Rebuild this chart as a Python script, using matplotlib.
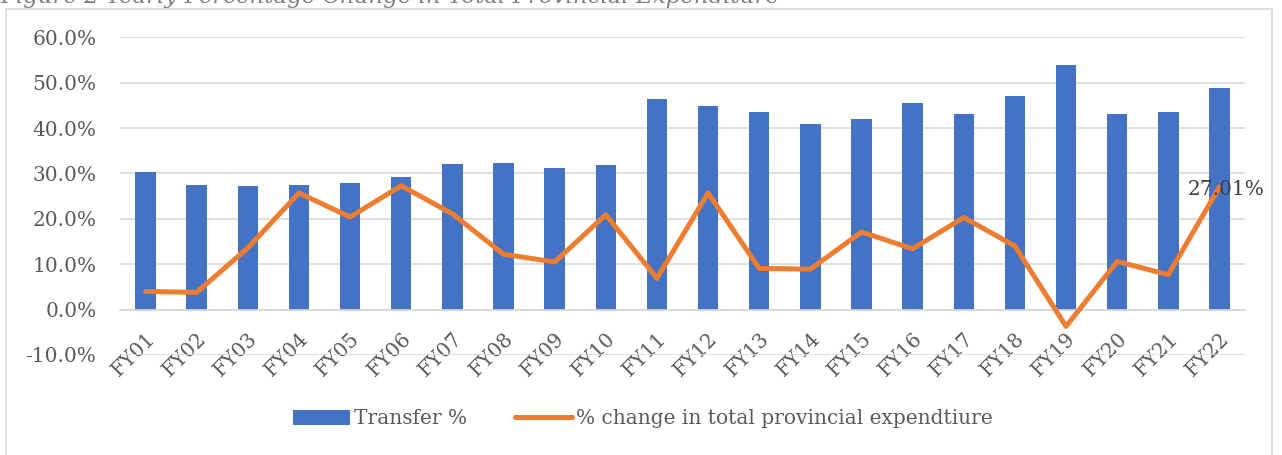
import numpy as np
import matplotlib
matplotlib.use('Agg')
import matplotlib.pyplot as plt
from matplotlib.patches import Rectangle

years = ['FY01', 'FY02', 'FY03', 'FY04', 'FY05', 'FY06', 'FY07', 'FY08', 'FY09', 'FY10', 'FY11',
         'FY12', 'FY13', 'FY14', 'FY15', 'FY16', 'FY17', 'FY18', 'FY19', 'FY20', 'FY21', 'FY22']
transfer = [30.4, 27.5, 27.3, 27.5, 27.8, 29.3, 32.1, 32.4, 31.2, 31.8, 46.4,
            44.9, 43.6, 41.0, 41.9, 45.5, 43.0, 47.1, 53.9, 43.2, 43.6, 48.9]
exp_change = [4.0, 3.8, 13.6, 25.7, 20.4, 27.3, 21.1, 12.2, 10.5, 20.9, 6.9,
              25.7, 9.1, 8.9, 17.1, 13.4, 20.3, 14.0, -3.7, 10.6, 7.7, 27.01]
yticks = [-10, 0, 10, 20, 30, 40, 50, 60]

txt = '#595959'
plt.rcParams['font.family'] = 'DejaVu Serif'

fig = plt.figure(figsize=(12.82, 4.55), dpi=100)
ax = fig.add_axes([120/1282, 1-355/455, 1125/1282, (355-37.3)/455])

# chart frame
fig.patches.append(Rectangle((6/1282, -0.1), 1266/1282, 1.1 - 9.5/455, transform=fig.transFigure,
                             fill=False, edgecolor='#D9D9D9', linewidth=1.2))
fig.text(0.0, 1-3/455, 'Figure 2 Yearly Percentage Change in Total Provincial Expenditure',
         fontsize=16.5, style='italic', color='#7F7F7F', va='baseline')

x = np.arange(len(years))
bars = ax.bar(x, transfer, 0.4, color='#4472C4', label='Transfer %', zorder=2)
line, = ax.plot(x, exp_change, color='#ED7D31', lw=3.6, solid_capstyle='round', solid_joinstyle='round',
                label='% change in total provincial expendtiure', zorder=3)
ax.annotate('{:.2f}%'.format(exp_change[-1]), (x[-1], exp_change[-1]), xytext=(5, -2),
            textcoords='offset points', ha='center', va='center', fontsize=14.5, color='#404040', zorder=4)

ax.set_xlim(-0.5, len(years) - 0.5)
ax.set_ylim(-10, 60)
ax.set_yticks(yticks)
ax.set_yticklabels(['{:.1f}%'.format(v) for v in yticks], fontsize=14.5, color=txt)
ax.grid(axis='y', color='#D9D9D9', lw=1.2, zorder=0)
ax.set_axisbelow(True)

for s in ['top', 'right', 'left']:
    ax.spines[s].set_visible(False)
ax.spines['bottom'].set_position(('data', 0))
ax.spines['bottom'].set_color('#D9D9D9')
ax.spines['bottom'].set_linewidth(1.2)

ax.set_xticks(x)
ax.set_xticklabels(years, rotation=45, ha='right', va='top', rotation_mode='anchor',
                   fontsize=14.5, color=txt)
ax.tick_params(axis='x', length=0, pad=14)
ax.tick_params(axis='y', length=0, pad=17)

# legend centred in the chart frame, not the plot area
fig.legend([bars, line], [bars.get_label(), line.get_label()],
           loc='center', bbox_to_anchor=(643/1282, 1-419/455), ncol=2, frameon=False,
           fontsize=14.5, labelcolor=txt, handlelength=2.8, columnspacing=2.4, handletextpad=0.2)

plt.savefig('out.png', dpi=100)
